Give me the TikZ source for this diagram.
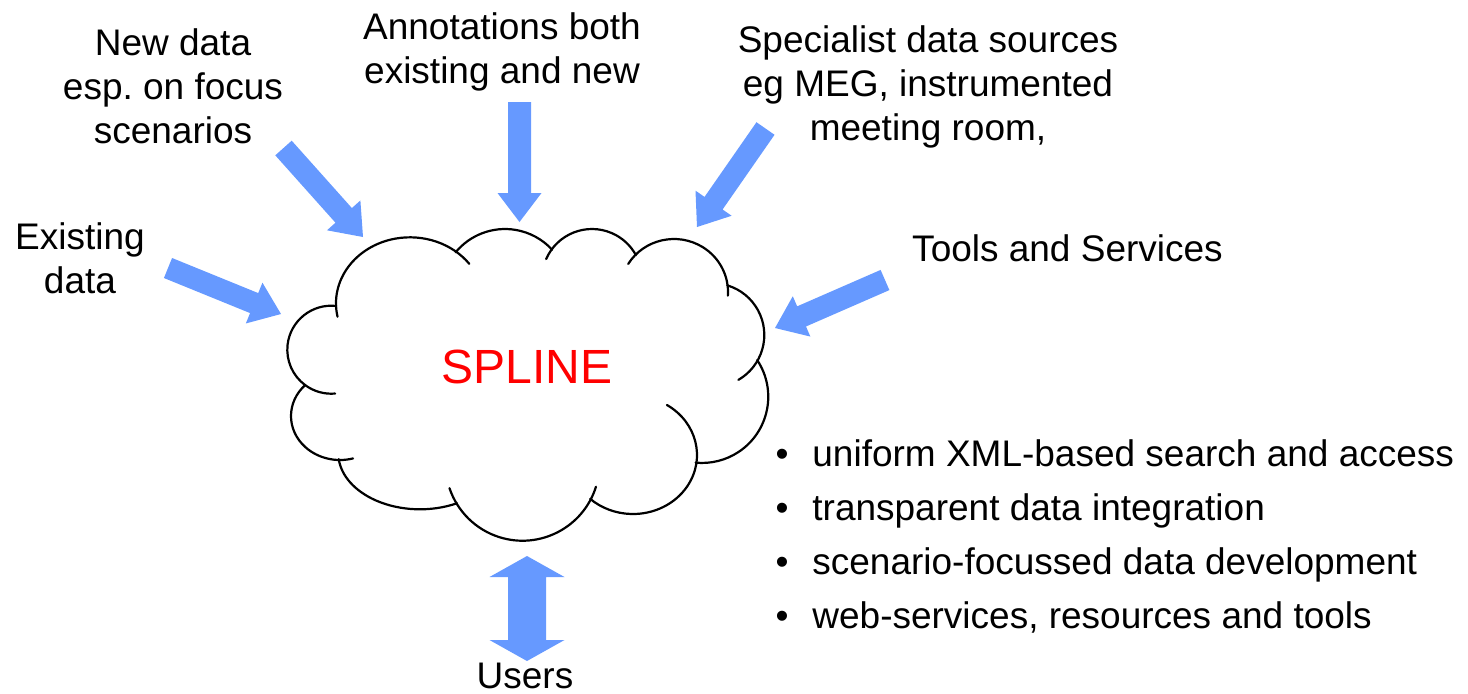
\documentclass[tikz,border=0pt]{standalone}
\usepackage{fontspec}
\setmainfont{Liberation Sans}
\usetikzlibrary{calc}
\definecolor{arrowblue}{RGB}{102,153,255}
\definecolor{splinered}{RGB}{255,0,0}
\frenchspacing

% block arrow: #1 tail, #2 tip, #3 shaft half width, #4 head half width, #5 head length
\newcommand{\blockarrow}[5]{%
  \coordinate (hb) at ($(#2)!#5!(#1)$);
  \fill[arrowblue] ($(#1)!#3!90:(#2)$) -- ($(hb)!#3!90:(#2)$) -- ($(hb)!#4!90:(#2)$)
    -- (#2) -- ($(hb)!#4!-90:(#2)$) -- ($(hb)!#3!-90:(#2)$) -- ($(#1)!#3!-90:(#2)$) -- cycle;}

% one lobe of the cloud: centre, start angle, end angle, x radius, y radius
\newcommand{\lobe}[5]{%
  \draw[cloudline] (#1) ++(#2:#4 and #5) arc[start angle=#2, end angle=#3, x radius=#4, y radius=#5];}

\begin{document}
\begin{tikzpicture}[x=0.5pt, y=0.5pt,
  lbl/.style={inner sep=0pt, font=\fontsize{18.5}{22}\selectfont, align=center, anchor=base},
  bul/.style={inner sep=0pt, font=\fontsize{18.5}{22}\selectfont, anchor=base west},
  cloudline/.style={draw=black, line width=1.1pt, line cap=round}]
\useasboundingbox (0,0) rectangle (1468,-693);

% cloud lobes, clockwise from the upper left
\lobe{410,-303.3}{191.7}{36.8}{74}{66}
\lobe{505,-293}{140.5}{42.5}{64}{64}
\lobe{592,-279}{156.5}{28.5}{50}{50}
\lobe{674,-292}{148}{-4}{54}{53}
\lobe{712.5,-335}{73.5}{-60}{51.8}{51.8}
\lobe{702,-396.7}{33.5}{-95.5}{66.25}{66.25}
\lobe{633,-455}{58}{-132}{64}{59}
\lobe{522.5,-463.7}{-17.4}{-161.5}{77}{77}
\lobe{420,-453.3}{-63}{-174}{81.7}{56}
\lobe{340,-416}{135}{285.4}{49}{44}
\lobe{331.3,-349.7}{83.5}{275}{44}{44}

\node[inner sep=0pt, anchor=base, text=splinered, font=\fontsize{24}{28}\selectfont] (spline) at (527,-383.3) {SPLINE};

% labels (anchored at the baseline of their last line)
\node[lbl] (existing) at (80,-293) {Existing\\data};
\node[lbl] (newdata) at (173,-143.3) {New data\\esp. on focus\\scenarios};
\node[lbl] (annot) at (502,-83.3) {Annotations both\\existing and new};
\node[lbl] (special) at (928,-140) {Specialist data sources\\eg MEG, instrumented\\meeting room,};
\node[lbl] (tools) at (1067.5,-261) {Tools and Services};
\node[lbl] (users) at (525,-688) {Users};

% feature list
\node[lbl] (b1) at (782,-466) {•};
\node[lbl] (b2) at (782,-520) {•};
\node[lbl] (b3) at (782,-574) {•};
\node[lbl] (b4) at (782,-628) {•};
\node[bul] (f1) at (812,-466) {uniform XML-based search and access};
\node[bul] (f2) at (812,-520) {transparent data integration};
\node[bul] (f3) at (812,-574) {scenario-focussed data development};
\node[bul] (f4) at (812,-628) {web-services, resources and tools};

% arrow end points
\coordinate (existing-tail) at (168,-268);
\coordinate (existing-tip) at (281,-314);
\coordinate (newdata-tail) at (283.5,-148);
\coordinate (newdata-tip) at (363,-237);
\coordinate (annot-tail) at (519.5,-102);
\coordinate (annot-tip) at (519.5,-222);
\coordinate (special-tail) at (765.5,-128.5);
\coordinate (special-tip) at (697,-227);
\coordinate (tools-tail) at (885,-280);
\coordinate (tools-tip) at (775,-328);
\coordinate (users-top) at (527,-556);
\coordinate (users-bottom) at (527,-661);

\blockarrow{existing-tail}{existing-tip}{5.4pt}{11pt}{14.5pt}
\blockarrow{newdata-tail}{newdata-tip}{5.5pt}{11.2pt}{14.5pt}
\blockarrow{annot-tail}{annot-tip}{5.75pt}{11pt}{14.5pt}
\blockarrow{special-tail}{special-tip}{5.5pt}{11pt}{14.5pt}
\blockarrow{tools-tail}{tools-tip}{5.5pt}{11pt}{14.5pt}

% two-headed arrow to the users
\fill[arrowblue] (users-top) -- ($(users-top)+(37.5,-21)$) -- ($(users-top)+(19,-21)$)
  -- ($(users-bottom)+(19,21)$) -- ($(users-bottom)+(37.5,21)$) -- (users-bottom)
  -- ($(users-bottom)+(-37.5,21)$) -- ($(users-bottom)+(-19,21)$)
  -- ($(users-top)+(-19,-21)$) -- ($(users-top)+(-37.5,-21)$) -- cycle;
\end{tikzpicture}
\end{document}
